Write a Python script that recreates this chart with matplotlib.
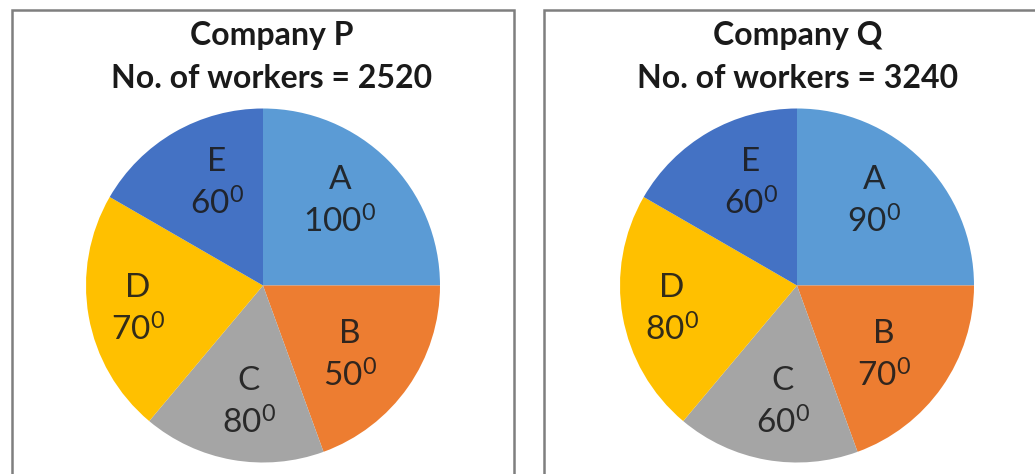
import matplotlib
matplotlib.use("Agg")
import numpy as np
import matplotlib.pyplot as plt
from matplotlib.patches import Rectangle

plt.rcParams["font.family"] = ["Lato", "DejaVu Sans"]
plt.rcParams["mathtext.fontset"] = "custom"
plt.rcParams["mathtext.rm"] = "Lato"
plt.rcParams["mathtext.default"] = "rm"

# slice data
sectors = ["A", "B", "C", "D", "E"]
colors = ["#5B9BD5", "#ED7D31", "#A5A5A5", "#FFC000", "#4472C4"]

# degrees as printed on each chart
p_degrees = [100, 50, 80, 70, 60]
q_degrees = [90, 70, 60, 80, 60]
# slice sizes as drawn in the picture (both pies are drawn the same)
p_drawn = [90, 70, 60, 80, 60]
q_drawn = [90, 70, 60, 80, 60]

p_title = ["Company P", "No. of workers = 2520"]
q_title = ["Company Q", "No. of workers = 3240"]

# label placement tweaks (radius fraction, angle nudge in degrees)
label_r = [0.65, 0.625, 0.657, 0.72, 0.64]
label_nudge = [3, -3, 3, 0, -6]

W, H = 1035, 474
R = 177
fig = plt.figure(figsize=(W / 100, H / 100), dpi=100)
fig.patch.set_facecolor("white")

# panel borders
for x0, x1 in [(12, 514), (544, 1045)]:
    fig.add_artist(Rectangle((x0 / W, -0.1), (x1 - x0) / W, (H - 10) / H + 0.1,
                             transform=fig.transFigure, fill=False,
                             edgecolor="#7f7f7f", linewidth=1.8))


def draw_pie(cx, cy, tx, drawn, degrees, title):
    ax = fig.add_axes([(cx - R) / W, (H - cy - R) / H, 2 * R / W, 2 * R / H])
    wedges, _ = ax.pie(drawn, colors=colors, startangle=90, counterclock=False,
                       wedgeprops=dict(linewidth=0))
    for i, w in enumerate(wedges):
        w.set_clip_on(False)
        ang = np.deg2rad((w.theta1 + w.theta2) / 2 + label_nudge[i])
        lx = label_r[i] * np.cos(ang)
        ly = label_r[i] * np.sin(ang)
        ax.text(lx, ly + 11 / R, sectors[i], ha="center", va="baseline",
                fontsize=24, color="#1c1c1c", alpha=0.9)
        ax.text(lx, ly - 33 / R, str(degrees[i]) + "$^{0}$", ha="center",
                va="baseline", fontsize=24, color="#1c1c1c", alpha=0.9)
    ax.set_xlim(-1, 1)
    ax.set_ylim(-1, 1)
    ax.set_aspect("auto")
    ax.axis("off")

    fig.text(tx / W, 1 - 45 / H, title[0], ha="center", va="baseline",
             fontsize=23, fontweight="bold", color="#1a1a1a")
    fig.text(tx / W, 1 - 88 / H, title[1], ha="center", va="baseline",
             fontsize=23, fontweight="bold", color="#1a1a1a")


draw_pie(263, 285.5, 272, p_drawn, p_degrees, p_title)
draw_pie(797, 285.5, 798, q_drawn, q_degrees, q_title)

plt.savefig("out.png", dpi=100, facecolor="white")
plt.close()
